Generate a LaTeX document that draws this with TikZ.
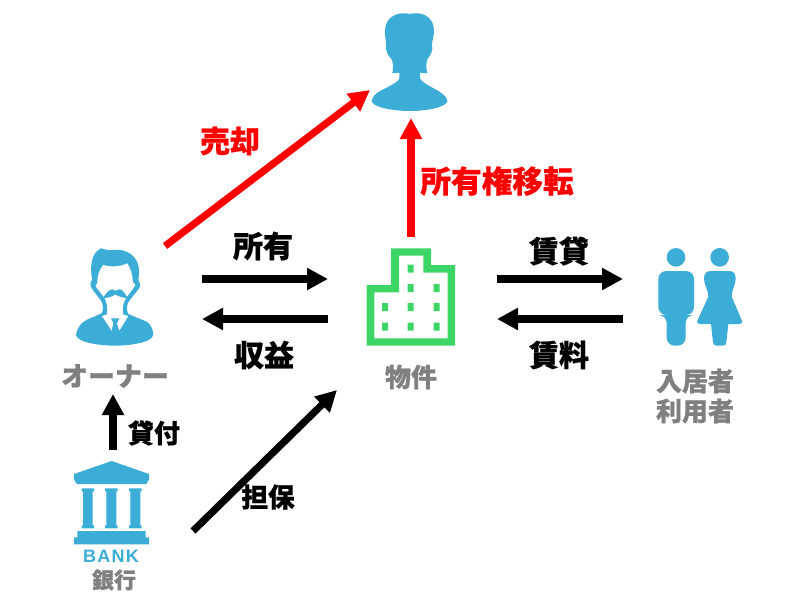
\documentclass[tikz,border=0pt]{standalone}
\usepackage{fontspec}
\setmainfont{Noto Sans CJK JP}[BoldFeatures={FakeBold=0.6}]
\newfontfamily\bankfont[LetterSpace=7]{Liberation Sans}
\usetikzlibrary{arrows.meta}
\definecolor{iconblue}{HTML}{3BADD6}
\definecolor{bldgreen}{HTML}{3DD666}
\definecolor{labelgray}{HTML}{808080}
\tikzset{
	flow/.style={-{Triangle[length=15.75pt,width=15.75pt]}, line width=5.4pt},
	redflow/.style={flow, draw=red},
	lbl/.style={font=\bfseries\fontsize{#1}{#1}\selectfont, inner sep=0pt, align=center},
	redlbl/.style={lbl=#1, text=red},
	graylbl/.style={lbl=#1, text=labelgray}
}
\begin{document}
\begin{tikzpicture}[x=0.75pt,y=-0.75pt]
	\useasboundingbox (0,0) rectangle (800,600);
	% buyer
	\begin{scope}[shift={(340,0)},x=0.25pt,y=-0.25pt]
		\fill [iconblue] (210,42) .. controls (190,36) and (135,38) .. (135,95) .. controls (135,110) and (138,122) .. (138,135) .. controls (136,150) and (142,165) .. (155,178) .. controls (160,190) and (160,205) .. (157,220) -- (178,218) -- (178,235) .. controls (175,250) and (120,270) .. (110,280) .. controls (100,288) and (95,297) .. (95,305) .. controls (105,325) and (170,333) .. (210,333) .. controls (250,333) and (312,325) .. (322,305) .. controls (322,297) and (317,288) .. (305,280) .. controls (295,270) and (245,250) .. (240,235) -- (240,218) -- (262,220) .. controls (258,205) and (258,190) .. (262,178) .. controls (272,165) and (280,150) .. (276,135) .. controls (276,122) and (282,110) .. (282,95) .. controls (282,38) and (230,36) .. (210,42) -- cycle;
	\end{scope}
	% owner
	\begin{scope}[shift={(40,230)},x=0.25pt,y=-0.25pt]
		\fill [iconblue] (108,315) .. controls (112,290) and (125,275) .. (150,265) -- (185,250) .. controls (192,240) and (190,222) .. (183,212) -- (160,182) .. controls (150,170) and (148,155) .. (157,150) .. controls (150,120) and (150,70) .. (183,55) .. controls (195,58) and (205,62) .. (220,60) .. controls (255,55) and (300,75) .. (297,130) -- (295,152) .. controls (303,160) and (302,172) .. (292,182) -- (268,212) .. controls (260,222) and (258,240) .. (265,252) -- (320,275) .. controls (332,282) and (340,300) .. (340,315) .. controls (335,340) and (260,347) .. (225,347) .. controls (190,347) and (112,340) .. (108,315) -- cycle;
		\fill [white] (172,160) .. controls (172,135) and (178,118) .. (190,105) .. controls (215,112) and (240,110) .. (262,100) .. controls (272,115) and (278,135) .. (279,158) .. controls (287,160) and (287,168) .. (279,176) -- (258,204) .. controls (248,220) and (246,240) .. (250,254) -- (265,258) -- (238,302) -- (225,268) -- (215,302) -- (186,258) -- (200,254) .. controls (204,240) and (202,222) .. (194,204) -- (172,176) .. controls (165,168) and (165,162) .. (172,160) -- cycle;
		\fill [iconblue] (188,205) .. controls (195,195) and (205,178) .. (217,178) .. controls (222,178) and (225,182) .. (226,183) .. controls (228,182) and (232,178) .. (238,178) .. controls (250,178) and (257,195) .. (264,205) .. controls (250,203) and (235,200) .. (226,193) .. controls (217,200) and (205,203) .. (188,205) -- cycle;
		\fill [iconblue] (213,265) -- (238,265) -- (231,279) -- (236,300) -- (226,312) -- (216,300) -- (220,279) -- cycle;
	\end{scope}
	% building
	\begin{scope}[shift={(340,230)},x=0.25pt,y=-0.25pt]
		\fill [bldgreen, even odd rule] (80,347) -- (80,165) -- (153,165) -- (153,55) -- (273,55) -- (273,105) -- (345,105) -- (345,347) -- cycle
			(103,325) -- (103,187) -- (177,187) -- (177,77) -- (250,77) -- (250,128) -- (323,128) -- (323,325) -- cycle;
		\fill [bldgreen] (203,104) rectangle ++(18,24)
			(203,162) rectangle ++(18,24)
			(281,162) rectangle ++(18,24)
			(126,219) rectangle ++(18,24)
			(203,219) rectangle ++(18,24)
			(281,219) rectangle ++(18,24)
			(126,278) rectangle ++(18,24)
			(203,278) rectangle ++(18,24)
			(281,278) rectangle ++(18,24);
	\end{scope}
	% tenants
	\begin{scope}[shift={(640,235)},x=0.25pt,y=-0.25pt]
		\fill [iconblue] (108,67) circle [radius=7pt];
		\fill [iconblue] (239,67) circle [radius=7pt];
		\fill [iconblue, rounded corners=6pt] (55,108) -- (162,108) -- (162,240) -- (137,240) -- (137,332) -- (80,332) -- (80,240) -- (55,240) -- cycle;
		\fill [iconblue] (192,130) .. controls (192,115) and (200,108) .. (212,108) -- (267,108) .. controls (279,108) and (287,115) .. (287,130) .. controls (287,150) and (275,165) .. (275,185) -- (305,255) .. controls (309,263) and (305,267) .. (298,267) -- (265,267) -- (259,322) .. controls (258,329) and (255,332) .. (248,332) -- (230,332) .. controls (223,332) and (220,329) .. (219,322) -- (213,267) -- (180,267) .. controls (173,267) and (169,263) .. (173,255) -- (205,185) .. controls (205,165) and (192,150) .. (192,130) -- cycle;
	\end{scope}
	% bank
	\begin{scope}[shift={(55,450)},x=0.25pt,y=-0.25pt]
		\fill [iconblue] (170,33) -- (282,72) -- (282,88) -- (274,102) -- (65,102) -- (57,88) -- (57,72) -- cycle;
		\fill [iconblue] (80,115) -- (117,115) -- (117,124) -- (113,124) -- (113,226) -- (117,226) -- (117,235) -- (80,235) -- (80,226) -- (84,226) -- (84,124) -- (80,124) -- cycle;
		\fill [iconblue] (150,115) -- (188,115) -- (188,124) -- (184,124) -- (184,226) -- (188,226) -- (188,235) -- (150,235) -- (150,226) -- (154,226) -- (154,124) -- (150,124) -- cycle;
		\fill [iconblue] (222,115) -- (260,115) -- (260,124) -- (256,124) -- (256,226) -- (260,226) -- (260,235) -- (222,235) -- (222,226) -- (226,226) -- (226,124) -- (222,124) -- cycle;
		\fill [iconblue] (67,243) -- (272,243) -- (272,262) -- (282,262) -- (282,283) -- (57,283) -- (57,262) -- (67,262) -- cycle;
	\end{scope}
	\node [font=\bankfont\bfseries\fontsize{13.5}{13.5}\selectfont, text=iconblue, inner sep=0pt] (banktext) at (111,556) {BANK};
	% labels
	\node [graylbl=20.2] (owner) at (115,376) {オーナー};
	\node [graylbl=19.5] (property) at (411,377) {物件};
	\node [graylbl=19.5] (tenants) at (695,396) {入居者\\[3pt]利用者};
	\node [graylbl=16.5] (bank) at (114,580) {銀行};
	\node [redlbl=22.5] (sale) at (230,141) {売却};
	\node [redlbl=23] (transfer) at (497,181) {所有権移転};
	\node [lbl=22.5] (own) at (263,246) {所有};
	\node [lbl=22.5] (income) at (264,355) {収益};
	\node [lbl=22.5] (lease) at (559,251) {賃貸};
	\node [lbl=22.5] (rent) at (559,355) {賃料};
	\node [lbl=19.5] (loan) at (154,433) {貸付};
	\node [lbl=20] (collateral) at (268,497) {担保};
	% arrow ends
	\coordinate (saleA) at (165,246);
	\coordinate (saleB) at (370,90);
	\coordinate (transferA) at (411,237);
	\coordinate (transferB) at (411,118);
	\coordinate (ownA) at (202,279);
	\coordinate (ownB) at (328,279);
	\coordinate (incomeA) at (328,319);
	\coordinate (incomeB) at (202,319);
	\coordinate (leaseA) at (497,279);
	\coordinate (leaseB) at (623,279);
	\coordinate (rentA) at (623,319);
	\coordinate (rentB) at (497,319);
	\coordinate (loanA) at (113,450);
	\coordinate (loanB) at (113,394);
	\coordinate (collA) at (193,531);
	\coordinate (collB) at (337,390);
	\draw [redflow] (saleA) -- (saleB);
	\draw [redflow] (transferA) -- (transferB);
	\draw [flow] (ownA) -- (ownB);
	\draw [flow] (incomeA) -- (incomeB);
	\draw [flow] (leaseA) -- (leaseB);
	\draw [flow] (rentA) -- (rentB);
	\draw [flow] (loanA) -- (loanB);
	\draw [flow] (collA) -- (collB);
\end{tikzpicture}
\end{document}
